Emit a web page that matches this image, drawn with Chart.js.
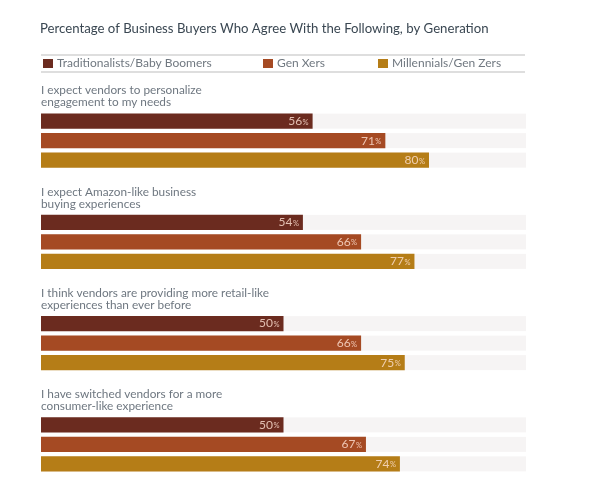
<!DOCTYPE html>
<html lang="en">
<head>
    <meta charset="UTF-8">
    <title>Business Buyers by Generation</title>
    <script src="https://cdn.jsdelivr.net/npm/chart.js"></script>
    <style>
        html, body { margin: 0; padding: 0; background: #fff; }
        #wrap { position: relative; width: 600px; height: 495px; }
    </style>
</head>
<body>
    <div id="wrap"><canvas id="chart"></canvas></div>

    <script>
        const chartTitle = 'Percentage of Business Buyers Who Agree With the Following, by Generation';
        const statements = [
            ['I expect vendors to personalize', 'engagement to my needs'],
            ['I expect Amazon-like business', 'buying experiences'],
            ['I think vendors are providing more retail-like', 'experiences than ever before'],
            ['I have switched vendors for a more', 'consumer-like experience']
        ];
        const generations = ['Traditionalists/Baby Boomers', 'Gen Xers', 'Millennials/Gen Zers'];
        const boomers = [56, 54, 50, 50];
        const genX = [71, 66, 66, 67];
        const millennials = [80, 77, 75, 74];
        const colors = ['#6b2b1f', '#a54a23', '#b57d17'];

        const font = 'Lato, "Open Sans", sans-serif';

        // grey track behind each bar, up to 100%
        const tracks = {
            id: 'tracks',
            beforeDatasetsDraw(chart) {
                const ctx = chart.ctx;
                const x = chart.scales.x;
                ctx.save();
                ctx.fillStyle = '#f6f4f4';
                chart.data.datasets.forEach((ds, i) => {
                    chart.getDatasetMeta(i).data.forEach(bar => {
                        ctx.fillRect(x.getPixelForValue(0), bar.y - bar.height / 2,
                            x.getPixelForValue(100) - x.getPixelForValue(0), bar.height);
                    });
                });
                ctx.restore();
            }
        };

        // title, legend row, statement labels and value labels
        const decorations = {
            id: 'decorations',
            afterDatasetsDraw(chart) {
                const ctx = chart.ctx;
                ctx.save();

                ctx.fillStyle = '#3a4752';
                ctx.font = '13.2px ' + font;
                ctx.textBaseline = 'middle';
                ctx.fillText(chartTitle, 40, 29);

                ctx.strokeStyle = '#d4d4d4';
                ctx.lineWidth = 1.5;
                ctx.beginPath();
                ctx.moveTo(41, 55); ctx.lineTo(525, 55);
                ctx.moveTo(41, 72); ctx.lineTo(525, 72);
                ctx.stroke();

                const legendX = [43, 263, 378];
                ctx.font = '12px ' + font;
                generations.forEach((g, i) => {
                    ctx.fillStyle = colors[i];
                    ctx.fillRect(legendX[i], 59, 10, 9);
                    ctx.fillStyle = '#707880';
                    ctx.fillText(g, legendX[i] + 14, 63.5);
                });

                const first = chart.getDatasetMeta(0).data;
                ctx.font = '11.8px ' + font;
                ctx.fillStyle = '#6e7780';
                statements.forEach((lines, i) => {
                    const top = first[i].y - first[i].height / 2;
                    ctx.fillText(lines[0], 41, top - 23);
                    ctx.fillText(lines[1], 41, top - 11);
                });

                chart.data.datasets.forEach((ds, d) => {
                    chart.getDatasetMeta(d).data.forEach((bar, i) => {
                        const right = bar.x - 4;
                        ctx.fillStyle = 'rgba(255, 226, 212, 0.8)';
                        ctx.font = '7.5px ' + font;
                        const pw = ctx.measureText('%').width;
                        ctx.textAlign = 'right';
                        ctx.fillText('%', right, bar.y + 1);
                        ctx.font = '12px ' + font;
                        ctx.fillText(String(ds.data[i]), right - pw - 0.5, bar.y);
                        ctx.textAlign = 'left';
                    });
                });

                ctx.restore();
            }
        };

        new Chart(document.getElementById('chart'), {
            type: 'bar',
            data: {
                labels: statements.map(s => s.join(' ')),
                datasets: [
                    { label: generations[0], data: boomers, backgroundColor: colors[0] },
                    { label: generations[1], data: genX, backgroundColor: colors[1] },
                    { label: generations[2], data: millennials, backgroundColor: colors[2] }
                ]
            },
            options: {
                indexAxis: 'y',
                responsive: true,
                maintainAspectRatio: false,
                animation: false,
                categoryPercentage: 0.578,
                barPercentage: 0.77,
                layout: { padding: { left: 41, right: 74, top: 90, bottom: 0 } },
                scales: {
                    x: { min: 0, max: 100, display: false },
                    y: { display: false }
                },
                plugins: {
                    legend: { display: false },
                    tooltip: { enabled: false }
                }
            },
            plugins: [tracks, decorations]
        });
    </script>
</body>
</html>
